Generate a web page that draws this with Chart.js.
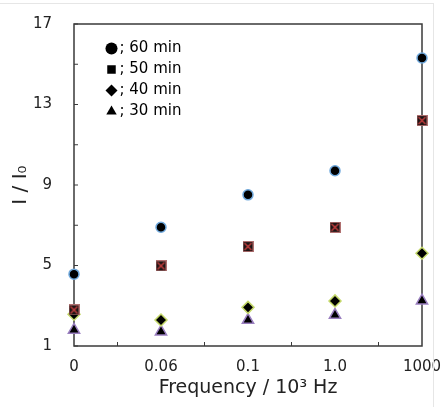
<!DOCTYPE html>
<html lang="en">
<head>
<meta charset="UTF-8">
<title>I / I0 vs frequency</title>
<script src="https://cdn.jsdelivr.net/npm/chart.js"></script>
<style>
    body {
        margin: 0;
        background: #fff;
    }
    #wrap {
        position: relative;
        width: 448px;
        height: 407px;
    }
    .edge-top {
        position: absolute; left: 0; top: 3px; width: 434px; height: 1px; background: #e6e6e6;
    }
    .edge-right {
        position: absolute; left: 433px; top: 3px; width: 1px; height: 404px; background: #e6e6e6;
    }
</style>
</head>
<body>
<div id="wrap">
    <div class="edge-top"></div>
    <div class="edge-right"></div>
    <canvas id="chart"></canvas>
</div>
<script>
    const categories = ['0', '0.06', '0.1', '1.0', '1000'];
    const seriesNames = ['60 min', '50 min', '40 min', '30 min'];
    const s60 = [4.57, 6.9, 8.51, 9.71, 15.31];
    const s50 = [2.79, 4.98, 5.94, 6.9, 12.2];
    const s40 = [2.58, 2.29, 2.92, 3.24, 5.61];
    const s30 = [1.8, 1.71, 2.29, 2.54, 3.25];
    const yTickLabels = [1, 5, 9, 13, 17];

    const FONT = 'DejaVu Sans';

    // square marker with a red cross, as in the original
    function squareMarker() {
        const c = document.createElement('canvas');
        c.width = 11; c.height = 11;
        const g = c.getContext('2d');
        g.fillStyle = '#1e1414';
        g.fillRect(0, 0, 11, 11);
        g.strokeStyle = '#b07070';
        g.lineWidth = 1;
        g.strokeRect(0.5, 0.5, 10, 10);
        g.strokeStyle = '#d04040';
        g.lineWidth = 1.3;
        g.beginPath();
        g.moveTo(2, 2); g.lineTo(9, 9);
        g.moveTo(9, 2); g.lineTo(2, 9);
        g.stroke();
        return c;
    }

    const legendStyles = ['circle', 'rect', 'rectRot', 'triangle'];

    function series(i, data, style, border, radius) {
        return {
            label: seriesNames[i],
            data: data,
            showLine: false,
            pointStyle: style,
            pointRadius: radius,
            pointHoverRadius: radius,
            pointBackgroundColor: '#000',
            pointBorderColor: border,
            pointBorderWidth: 1.5,
            clip: false
        };
    }

    // inward ticks + closed frame round the plot
    const frame = {
        id: 'frame',
        afterLayout(chart) {
            const lg = chart.legend;
            const w = lg.width, h = lg.height;
            lg.left = 105; lg.top = 35;
            lg.right = lg.left + w; lg.bottom = lg.top + h;
        },
        beforeDatasetsDraw(chart) {
            const { ctx, chartArea: a, scales: { x, y } } = chart;
            ctx.save();
            ctx.strokeStyle = '#3a3a3a';
            ctx.lineWidth = 1.5;
            ctx.strokeRect(a.left, a.top, a.right - a.left, a.bottom - a.top);
            ctx.lineWidth = 1;
            ctx.beginPath();
            y.ticks.forEach(t => {
                const py = y.getPixelForValue(t.value);
                ctx.moveTo(a.left, py); ctx.lineTo(a.left + 4, py);
            });
            for (let i = 0; i < categories.length - 1; i++) {
                const px = x.getPixelForValue(i + 0.5);
                ctx.moveTo(px, a.bottom); ctx.lineTo(px, a.bottom - 4);
            }
            ctx.stroke();
            ctx.restore();
        }
    };

    new Chart(document.getElementById('chart'), {
        type: 'line',
        data: {
            labels: categories,
            datasets: [
                series(0, s60, 'circle', '#6fa8dc', 5),
                series(1, s50, squareMarker(), '#b07070', 5),
                series(2, s40, 'rectRot', '#c4d86a', 6),
                series(3, s30, 'triangle', '#9a7fc0', 6.5)
            ]
        },
        options: {
            responsive: true,
            maintainAspectRatio: false,
            animation: false,
            layout: { padding: { left: 0, top: 24, right: 26, bottom: 0 } },
            plugins: {
                tooltip: { enabled: false },
                legend: {
                    position: 'chartArea',
                    align: 'start',
                    labels: {
                        usePointStyle: true,
                        boxWidth: 1,
                        boxHeight: 8.5,
                        padding: 6,
                        color: '#222',
                        font: { family: FONT, size: 15 },
                        generateLabels(chart) {
                            return chart.data.datasets.map((ds, i) => ({
                                text: '; ' + seriesNames[i],
                                pointStyle: legendStyles[i],
                                fillStyle: '#000',
                                strokeStyle: '#000',
                                lineWidth: 0,
                                datasetIndex: i
                            }));
                        }
                    }
                }
            },
            scales: {
                x: {
                    offset: false,
                    grid: { display: false },
                    border: { display: false },
                    ticks: { color: '#222', padding: 4, maxRotation: 0, font: { family: FONT, size: 15 } },
                    title: {
                        display: true,
                        text: 'Frequency / 10³ Hz',
                        color: '#222',
                        font: { family: FONT, size: 19 },
                        padding: { top: 0, bottom: 8 }
                    },
                    afterFit(s) { s.height = 61; }
                },
                y: {
                    min: 1,
                    max: 17,
                    grid: { display: false },
                    border: { display: false },
                    ticks: {
                        stepSize: 2,
                        padding: 14,
                        color: '#222',
                        font: { family: FONT, size: 15 },
                        callback: v => yTickLabels.includes(v) ? v : ''
                    },
                    title: {
                        display: true,
                        text: 'I / I₀',
                        color: '#222',
                        font: { family: FONT, size: 20 },
                        padding: { top: 9, bottom: 0 }
                    },
                    afterFit(s) { s.width = 74; }
                }
            }
        },
        plugins: [frame]
    });
</script>
</body>
</html>
